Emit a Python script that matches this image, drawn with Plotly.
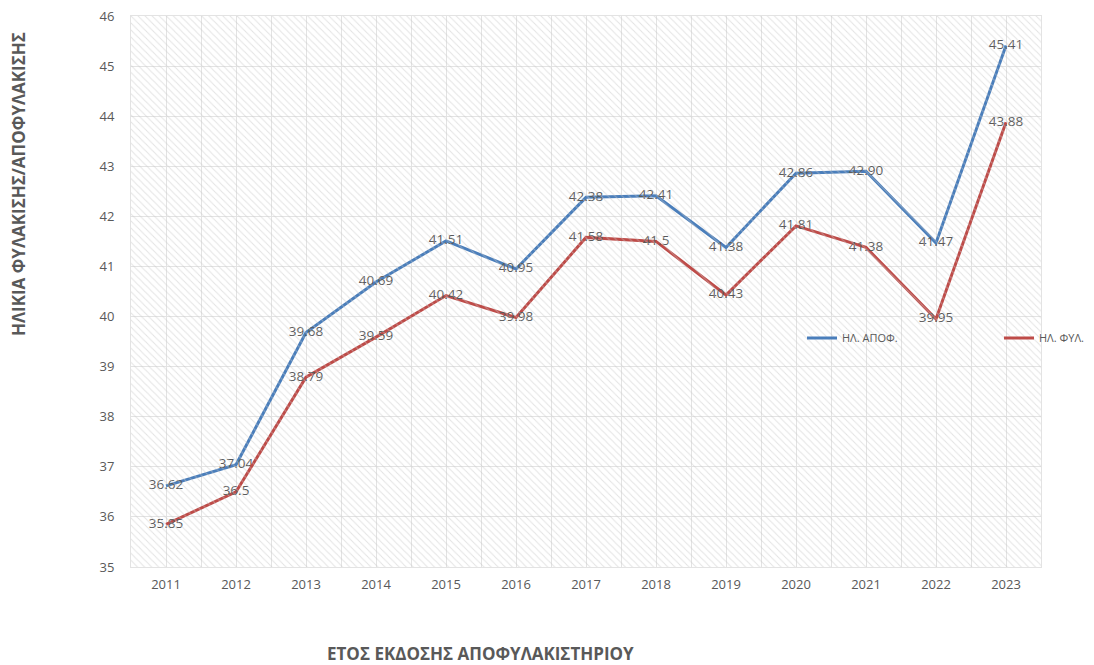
import plotly.graph_objects as go

years = [2011, 2012, 2013, 2014, 2015, 2016, 2017, 2018, 2019, 2020, 2021, 2022, 2023]
apof_values = [36.62, 37.04, 39.68, 40.69, 41.51, 40.95, 42.38, 42.41, 41.38, 42.86, 42.90, 41.47, 45.41]
apof_labels = ["36.62", "37.04", "39.68", "40.69", "41.51", "40.95", "42.38", "42.41", "41.38", "42.86", "42.90", "41.47", "45.41"]
fyl_values = [35.85, 36.5, 38.79, 39.59, 40.42, 39.98, 41.58, 41.5, 40.43, 41.81, 41.38, 39.95, 43.88]
fyl_labels = ["35.85", "36.5", "38.79", "39.59", "40.42", "39.98", "41.58", "41.5", "40.43", "41.81", "41.38", "39.95", "43.88"]

FONT = "Open Sans"
L, R, T, B = 123, 53, 8, 98
W, H = 1086, 657
PW, PH = W - L - R, H - T - B

fig = go.Figure()

# hatched background (decorative) on an overlay axis
fig.add_trace(go.Bar(
    x=[0.5], y=[1], width=[1], xaxis="x2", yaxis="y2",
    marker=dict(color="rgba(0,0,0,0)", line=dict(width=0),
                pattern=dict(shape="\\", fgcolor="#C8C8C8", bgcolor="rgba(0,0,0,0)", size=5, solidity=0.2)),
    showlegend=False, hoverinfo="skip"))

fig.add_trace(go.Scatter(
    x=years, y=apof_values, mode="lines+text", name="ΗΛ. ΑΠΟΦ.",
    line=dict(color="#4A7EBB", width=3), text=apof_labels, textposition="middle center",
    textfont=dict(family=FONT, size=13.5, color="#595959")))
fig.add_trace(go.Scatter(
    x=years, y=fyl_values, mode="lines+text", name="ΗΛ. ΦΥΛ.",
    line=dict(color="#BE4B48", width=3), text=fyl_labels, textposition="middle center",
    textfont=dict(family=FONT, size=13.5, color="#595959")))

fig.update_layout(
    width=W, height=H,
    margin=dict(l=L, r=R, t=T, b=B, autoexpand=False),
    paper_bgcolor="white", plot_bgcolor="white",
    font=dict(family=FONT, color="#595959"),
    xaxis=dict(range=[2010.5, 2023.5], tickmode="array", tickvals=years, ticktext=[str(y) for y in years],
               showgrid=True, gridcolor="#E3E3E3", gridwidth=1, zeroline=False,
               minor=dict(tick0=2010.5, dtick=1, showgrid=True, gridcolor="#E3E3E3", gridwidth=1),
               tickfont=dict(size=13, color="#595959"), showline=True, linecolor="#E3E3E3", mirror=True,
               ticks="outside", ticklen=5, tickcolor="rgba(0,0,0,0)", ticklabeloverflow="allow"),
    yaxis=dict(range=[35, 46], dtick=1, showgrid=True, gridcolor="#E3E3E3", gridwidth=1, zeroline=False,
               tickfont=dict(size=13, color="#595959"), showline=True, linecolor="#E3E3E3", mirror=True,
               ticks="outside", ticklen=13, tickcolor="rgba(0,0,0,0)", ticklabeloverflow="allow"),
    xaxis2=dict(range=[0, 1], overlaying="x", visible=False, fixedrange=True),
    yaxis2=dict(range=[0, 1], overlaying="y", visible=False, fixedrange=True),
    barmode="overlay",
    legend=dict(orientation="h", x=(794 - L) / PW, y=(H - B - 330) / PH, xanchor="left", yanchor="middle",
                entrywidth=152, entrywidthmode="pixels", bgcolor="rgba(0,0,0,0)",
                font=dict(size=11, color="#595959"), itemwidth=30),
    showlegend=True,
)

fig.add_annotation(text="<b>ΗΛΙΚΙΑ ΦΥΛΑΚΙΣΗΣ/ΑΠΟΦΥΛΑΚΙΣΗΣ</b>", xref="paper", yref="paper",
                   x=(10 - L) / PW, y=(H - B - 176) / PH, textangle=-90, showarrow=False,
                   font=dict(size=17, color="#595959", family=FONT), xanchor="center", yanchor="middle")
fig.add_annotation(text="<b>ΕΤΟΣ ΕΚΔΟΣΗΣ ΑΠΟΦΥΛΑΚΙΣΤΗΡΙΟΥ</b>", xref="paper", yref="paper",
                   x=(472 - L) / PW, y=(H - B - 645) / PH, showarrow=False,
                   font=dict(size=17, color="#595959", family=FONT), xanchor="center", yanchor="middle")

fig.write_html("out.html")
